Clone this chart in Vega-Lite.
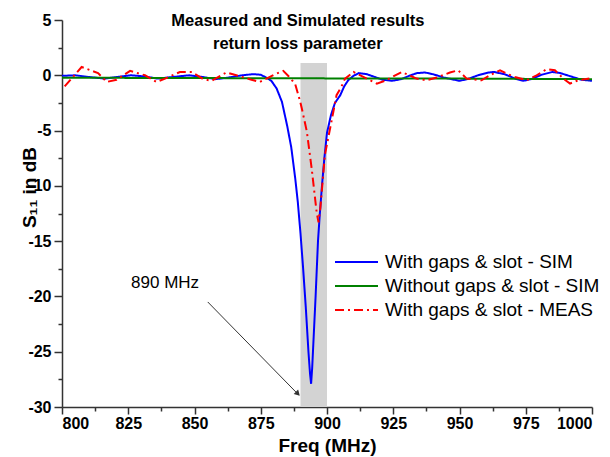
{
  "$schema": "https://vega.github.io/schema/vega-lite/v6.json",
  "width": 530,
  "height": 387,
  "autosize": {"type": "none"},
  "padding": {"left": 62, "top": 20, "right": 18, "bottom": 50},
  "background": "white",
  "config": {
    "view": {"stroke": null},
    "axis": {
      "grid": false,
      "domainColor": "#333",
      "domainWidth": 1.5,
      "tickColor": "#333",
      "tickWidth": 1.5,
      "labelFont": "Liberation Sans",
      "labelFontWeight": "bold",
      "labelFontSize": 16,
      "labelColor": "black",
      "titleFont": "Liberation Sans",
      "titleFontWeight": "bold",
      "titleFontSize": 19,
      "titleColor": "black"
    },
    "legend": {
      "labelFont": "Liberation Sans",
      "labelFontSize": 19,
      "labelColor": "black",
      "labelLimit": 400
    }
  },
  "datasets": {
    "band": [
      {"lo": 890, "hi": 900, "bottom": -30, "top": 1.1}
    ],
    "one": [{}],
    "curves": [
      {"f": 800, "s": -0.05, "series": "With gaps & slot - SIM"},
      {"f": 805, "s": 0.0, "series": "With gaps & slot - SIM"},
      {"f": 810, "s": -0.15, "series": "With gaps & slot - SIM"},
      {"f": 816, "s": -0.3, "series": "With gaps & slot - SIM"},
      {"f": 821, "s": -0.15, "series": "With gaps & slot - SIM"},
      {"f": 826, "s": 0.0, "series": "With gaps & slot - SIM"},
      {"f": 831, "s": -0.1, "series": "With gaps & slot - SIM"},
      {"f": 836, "s": -0.3, "series": "With gaps & slot - SIM"},
      {"f": 842, "s": -0.15, "series": "With gaps & slot - SIM"},
      {"f": 848, "s": 0.0, "series": "With gaps & slot - SIM"},
      {"f": 853, "s": -0.15, "series": "With gaps & slot - SIM"},
      {"f": 858, "s": -0.35, "series": "With gaps & slot - SIM"},
      {"f": 863, "s": -0.2, "series": "With gaps & slot - SIM"},
      {"f": 868, "s": 0.0, "series": "With gaps & slot - SIM"},
      {"f": 872, "s": 0.1, "series": "With gaps & slot - SIM"},
      {"f": 875, "s": 0.05, "series": "With gaps & slot - SIM"},
      {"f": 877, "s": -0.2, "series": "With gaps & slot - SIM"},
      {"f": 879, "s": -0.5, "series": "With gaps & slot - SIM"},
      {"f": 881, "s": -1.2, "series": "With gaps & slot - SIM"},
      {"f": 883, "s": -2.4, "series": "With gaps & slot - SIM"},
      {"f": 885, "s": -4.6, "series": "With gaps & slot - SIM"},
      {"f": 886.5, "s": -6.5, "series": "With gaps & slot - SIM"},
      {"f": 888, "s": -9.3, "series": "With gaps & slot - SIM"},
      {"f": 889, "s": -11.5, "series": "With gaps & slot - SIM"},
      {"f": 890, "s": -14.3, "series": "With gaps & slot - SIM"},
      {"f": 891, "s": -17.5, "series": "With gaps & slot - SIM"},
      {"f": 892, "s": -21, "series": "With gaps & slot - SIM"},
      {"f": 893, "s": -25, "series": "With gaps & slot - SIM"},
      {"f": 893.6, "s": -27, "series": "With gaps & slot - SIM"},
      {"f": 894, "s": -27.9, "series": "With gaps & slot - SIM"},
      {"f": 894.4, "s": -26.5, "series": "With gaps & slot - SIM"},
      {"f": 895, "s": -23.5, "series": "With gaps & slot - SIM"},
      {"f": 895.7, "s": -20, "series": "With gaps & slot - SIM"},
      {"f": 896.6, "s": -15, "series": "With gaps & slot - SIM"},
      {"f": 897.3, "s": -12.5, "series": "With gaps & slot - SIM"},
      {"f": 898.1, "s": -10, "series": "With gaps & slot - SIM"},
      {"f": 899, "s": -7.5, "series": "With gaps & slot - SIM"},
      {"f": 900, "s": -5.2, "series": "With gaps & slot - SIM"},
      {"f": 901.5, "s": -3.6, "series": "With gaps & slot - SIM"},
      {"f": 903, "s": -2.5, "series": "With gaps & slot - SIM"},
      {"f": 905, "s": -1.8, "series": "With gaps & slot - SIM"},
      {"f": 906.5, "s": -1.0, "series": "With gaps & slot - SIM"},
      {"f": 908, "s": -0.45, "series": "With gaps & slot - SIM"},
      {"f": 910, "s": -0.05, "series": "With gaps & slot - SIM"},
      {"f": 912, "s": 0.2, "series": "With gaps & slot - SIM"},
      {"f": 915, "s": 0.1, "series": "With gaps & slot - SIM"},
      {"f": 918, "s": -0.15, "series": "With gaps & slot - SIM"},
      {"f": 921, "s": -0.4, "series": "With gaps & slot - SIM"},
      {"f": 924.5, "s": -0.5, "series": "With gaps & slot - SIM"},
      {"f": 928, "s": -0.35, "series": "With gaps & slot - SIM"},
      {"f": 931, "s": -0.05, "series": "With gaps & slot - SIM"},
      {"f": 934, "s": 0.2, "series": "With gaps & slot - SIM"},
      {"f": 937, "s": 0.25, "series": "With gaps & slot - SIM"},
      {"f": 940, "s": 0.1, "series": "With gaps & slot - SIM"},
      {"f": 944, "s": -0.2, "series": "With gaps & slot - SIM"},
      {"f": 948, "s": -0.4, "series": "With gaps & slot - SIM"},
      {"f": 950, "s": -0.5, "series": "With gaps & slot - SIM"},
      {"f": 953, "s": -0.35, "series": "With gaps & slot - SIM"},
      {"f": 957, "s": 0.0, "series": "With gaps & slot - SIM"},
      {"f": 961, "s": 0.25, "series": "With gaps & slot - SIM"},
      {"f": 963, "s": 0.3, "series": "With gaps & slot - SIM"},
      {"f": 967, "s": 0.1, "series": "With gaps & slot - SIM"},
      {"f": 971, "s": -0.3, "series": "With gaps & slot - SIM"},
      {"f": 974, "s": -0.5, "series": "With gaps & slot - SIM"},
      {"f": 977, "s": -0.35, "series": "With gaps & slot - SIM"},
      {"f": 981, "s": 0.05, "series": "With gaps & slot - SIM"},
      {"f": 985, "s": 0.3, "series": "With gaps & slot - SIM"},
      {"f": 988, "s": 0.2, "series": "With gaps & slot - SIM"},
      {"f": 992, "s": -0.1, "series": "With gaps & slot - SIM"},
      {"f": 996, "s": -0.4, "series": "With gaps & slot - SIM"},
      {"f": 1000, "s": -0.5, "series": "With gaps & slot - SIM"},
      {"f": 800, "s": -0.22, "series": "Without gaps & slot - SIM"},
      {"f": 850, "s": -0.25, "series": "Without gaps & slot - SIM"},
      {"f": 900, "s": -0.28, "series": "Without gaps & slot - SIM"},
      {"f": 950, "s": -0.3, "series": "Without gaps & slot - SIM"},
      {"f": 1000, "s": -0.35, "series": "Without gaps & slot - SIM"},
      {"f": 801, "s": -1.0, "series": "With gaps & slot - MEAS"},
      {"f": 807.4, "s": 0.75, "series": "With gaps & slot - MEAS"},
      {"f": 813.6, "s": 0.2, "series": "With gaps & slot - MEAS"},
      {"f": 816.9, "s": -0.6, "series": "With gaps & slot - MEAS"},
      {"f": 820.6, "s": -0.4, "series": "With gaps & slot - MEAS"},
      {"f": 825.7, "s": 0.4, "series": "With gaps & slot - MEAS"},
      {"f": 831.3, "s": 0.0, "series": "With gaps & slot - MEAS"},
      {"f": 835.7, "s": -0.6, "series": "With gaps & slot - MEAS"},
      {"f": 838.9, "s": -0.3, "series": "With gaps & slot - MEAS"},
      {"f": 844.5, "s": 0.3, "series": "With gaps & slot - MEAS"},
      {"f": 849, "s": 0.3, "series": "With gaps & slot - MEAS"},
      {"f": 853.3, "s": -0.35, "series": "With gaps & slot - MEAS"},
      {"f": 856.5, "s": -0.5, "series": "With gaps & slot - MEAS"},
      {"f": 862, "s": 0.25, "series": "With gaps & slot - MEAS"},
      {"f": 865.8, "s": 0.0, "series": "With gaps & slot - MEAS"},
      {"f": 871.5, "s": -0.4, "series": "With gaps & slot - MEAS"},
      {"f": 874.7, "s": -0.6, "series": "With gaps & slot - MEAS"},
      {"f": 880.4, "s": 0.1, "series": "With gaps & slot - MEAS"},
      {"f": 883.5, "s": 0.4, "series": "With gaps & slot - MEAS"},
      {"f": 886, "s": -0.2, "series": "With gaps & slot - MEAS"},
      {"f": 888, "s": -0.8, "series": "With gaps & slot - MEAS"},
      {"f": 889.8, "s": -2.3, "series": "With gaps & slot - MEAS"},
      {"f": 890.5, "s": -3.0, "series": "With gaps & slot - MEAS"},
      {"f": 892.4, "s": -5.1, "series": "With gaps & slot - MEAS"},
      {"f": 894.2, "s": -8.4, "series": "With gaps & slot - MEAS"},
      {"f": 896.1, "s": -12.4, "series": "With gaps & slot - MEAS"},
      {"f": 896.8, "s": -13.3, "series": "With gaps & slot - MEAS"},
      {"f": 897.5, "s": -12.0, "series": "With gaps & slot - MEAS"},
      {"f": 899.2, "s": -7.2, "series": "With gaps & slot - MEAS"},
      {"f": 902.4, "s": -3.3, "series": "With gaps & slot - MEAS"},
      {"f": 903.6, "s": -1.8, "series": "With gaps & slot - MEAS"},
      {"f": 905.5, "s": -1.0, "series": "With gaps & slot - MEAS"},
      {"f": 906.8, "s": -0.3, "series": "With gaps & slot - MEAS"},
      {"f": 910, "s": 0.3, "series": "With gaps & slot - MEAS"},
      {"f": 913.7, "s": -0.15, "series": "With gaps & slot - MEAS"},
      {"f": 918.8, "s": -0.75, "series": "With gaps & slot - MEAS"},
      {"f": 921.9, "s": -0.5, "series": "With gaps & slot - MEAS"},
      {"f": 928.2, "s": 0.3, "series": "With gaps & slot - MEAS"},
      {"f": 933.8, "s": -0.3, "series": "With gaps & slot - MEAS"},
      {"f": 937.6, "s": -0.45, "series": "With gaps & slot - MEAS"},
      {"f": 941.4, "s": -0.2, "series": "With gaps & slot - MEAS"},
      {"f": 946.4, "s": 0.25, "series": "With gaps & slot - MEAS"},
      {"f": 949.5, "s": 0.45, "series": "With gaps & slot - MEAS"},
      {"f": 952.7, "s": -0.3, "series": "With gaps & slot - MEAS"},
      {"f": 958.3, "s": -0.45, "series": "With gaps & slot - MEAS"},
      {"f": 961.5, "s": 0.0, "series": "With gaps & slot - MEAS"},
      {"f": 965.3, "s": 0.45, "series": "With gaps & slot - MEAS"},
      {"f": 967.8, "s": 0.15, "series": "With gaps & slot - MEAS"},
      {"f": 970.9, "s": -0.15, "series": "With gaps & slot - MEAS"},
      {"f": 975.3, "s": -0.45, "series": "With gaps & slot - MEAS"},
      {"f": 979.1, "s": 0.0, "series": "With gaps & slot - MEAS"},
      {"f": 982.9, "s": 0.55, "series": "With gaps & slot - MEAS"},
      {"f": 986, "s": 0.45, "series": "With gaps & slot - MEAS"},
      {"f": 989.2, "s": -0.3, "series": "With gaps & slot - MEAS"},
      {"f": 991.7, "s": -0.75, "series": "With gaps & slot - MEAS"},
      {"f": 994.8, "s": -0.45, "series": "With gaps & slot - MEAS"},
      {"f": 999, "s": -0.3, "series": "With gaps & slot - MEAS"}
    ]
  },
  "resolve": {"axis": {"x": "independent", "y": "independent"}},
  "layer": [
    {
      "data": {"name": "band"},
      "mark": {"type": "rect", "color": "#d3d3d3"},
      "encoding": {
        "x": {"field": "lo", "type": "quantitative", "scale": {"domain": [800, 1000], "nice": false, "zero": false}, "axis": null},
        "x2": {"field": "hi"},
        "y": {"field": "bottom", "type": "quantitative", "scale": {"domain": [-30, 5], "nice": false, "zero": false}, "axis": null},
        "y2": {"field": "top"}
      }
    },
    {
      "data": {"name": "curves"},
      "mark": {"type": "line", "opacity": 0},
      "encoding": {
        "x": {"field": "f", "type": "quantitative", "scale": {"domain": [800, 1000], "nice": false, "zero": false},
          "axis": {"orient": "bottom", "values": [812.5, 837.5, 862.5, 887.5, 912.5, 937.5, 962.5, 987.5], "labels": false, "domain": false, "tickSize": 4, "title": null}},
        "y": {"field": "s", "type": "quantitative", "scale": {"domain": [-30, 5], "nice": false, "zero": false},
          "axis": {"orient": "left", "values": [-27.5, -22.5, -17.5, -12.5, -7.5, -2.5, 2.5], "labels": false, "domain": false, "tickSize": 4, "title": null}}
      }
    },
    {
      "data": {"name": "curves"},
      "mark": {"type": "line", "strokeWidth": 2},
      "encoding": {
        "x": {"field": "f", "type": "quantitative", "scale": {"domain": [800, 1000], "nice": false, "zero": false},
          "axis": {"orient": "bottom", "values": [800, 825, 850, 875, 900, 925, 950, 975, 1000], "labelExpr": "datum.value + ''", "tickSize": 7, "labelPadding": 1, "title": "Freq (MHz)", "titlePadding": 5}},
        "y": {"field": "s", "type": "quantitative", "scale": {"domain": [-30, 5], "nice": false, "zero": false},
          "axis": {"orient": "left", "values": [-30, -25, -20, -15, -10, -5, 0, 5], "labelExpr": "datum.value + ''", "tickSize": 8, "labelPadding": 3, "title": "S₁₁ in dB", "titleX": -33, "titleY": 167, "titleAngle": -90, "titleAlign": "center", "titleBaseline": "middle"}},
        "color": {
          "field": "series", "type": "nominal",
          "scale": {"domain": ["With gaps & slot - SIM", "Without gaps & slot - SIM", "With gaps & slot - MEAS"], "range": ["#0000ff", "#008000", "#ff0000"]},
          "legend": {"title": null, "orient": "none", "legendX": 272, "legendY": 233, "symbolType": "stroke", "symbolSize": 1849, "symbolStrokeWidth": 2, "clipHeight": 18, "rowPadding": 5, "padding": 0, "labelOffset": 6}
        },
        "strokeDash": {
          "field": "series", "type": "nominal",
          "scale": {"domain": ["With gaps & slot - SIM", "Without gaps & slot - SIM", "With gaps & slot - MEAS"], "range": [[1, 0], [1, 0], [9, 4, 2, 4]]},
          "legend": {"title": null, "orient": "none", "legendX": 272, "legendY": 233, "symbolType": "stroke", "symbolSize": 1849, "symbolStrokeWidth": 2, "clipHeight": 18, "rowPadding": 5, "padding": 0, "labelOffset": 6}
        }
      }
    },
    {
      "data": {"name": "one"},
      "mark": {"type": "rule", "color": "#333", "strokeWidth": 1},
      "encoding": {
        "x": {"datum": 855, "type": "quantitative", "axis": null},
        "y": {"datum": -20.5, "type": "quantitative", "axis": null},
        "x2": {"datum": 889.3},
        "y2": {"datum": -28.9}
      }
    },
    {
      "data": {"name": "one"},
      "mark": {"type": "point", "shape": "triangle-up", "filled": true, "color": "#333", "size": 40, "angle": 135, "opacity": 1},
      "encoding": {
        "x": {"datum": 889, "type": "quantitative", "axis": null},
        "y": {"datum": -28.8, "type": "quantitative", "axis": null}
      }
    },
    {
      "data": {"name": "one"},
      "mark": {"type": "text", "font": "Liberation Sans", "fontSize": 17, "color": "black", "align": "center", "baseline": "middle"},
      "encoding": {
        "x": {"datum": 838.9, "type": "quantitative", "axis": null},
        "y": {"datum": -18.8, "type": "quantitative", "axis": null},
        "text": {"value": "890 MHz"}
      }
    },
    {
      "data": {"name": "one"},
      "mark": {"type": "text", "font": "Liberation Sans", "fontSize": 16.5, "fontWeight": "bold", "color": "black", "align": "center", "baseline": "top", "lineHeight": 23},
      "encoding": {
        "x": {"datum": 889, "type": "quantitative", "axis": null},
        "y": {"datum": 5.65, "type": "quantitative", "axis": null},
        "text": {"value": ["Measured and Simulated results", "return loss parameter"]}
      }
    }
  ]
}
